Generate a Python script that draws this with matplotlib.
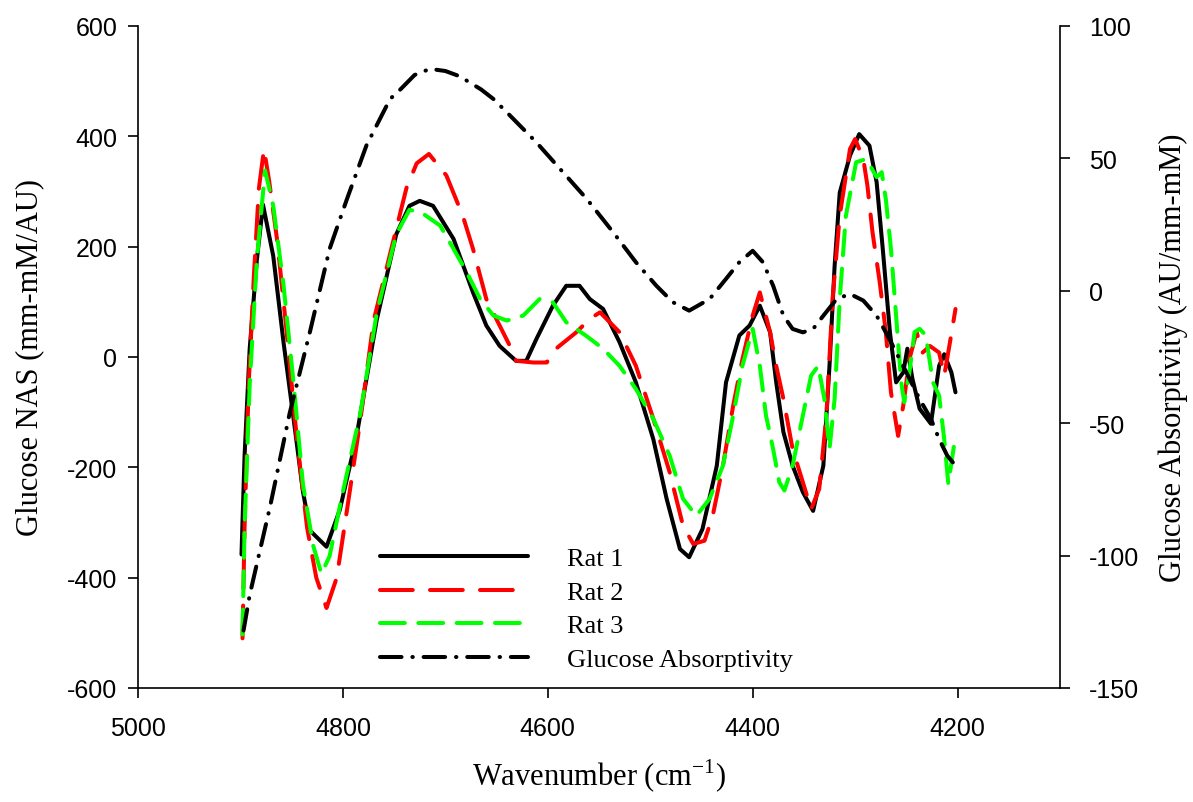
import matplotlib
matplotlib.use('Agg')
import matplotlib.pyplot as plt

# wavenumber (cm-1) / glucose NAS (mm-mM/AU)
rat1_wn = [4899, 4896, 4891, 4884, 4878, 4868, 4858, 4848, 4839, 4832, 4816, 4803, 4787,
           4767, 4748, 4735, 4725, 4712, 4692, 4673, 4660, 4647, 4631, 4621, 4611, 4595,
           4582, 4569, 4559, 4546, 4530, 4514, 4497, 4484, 4471, 4462, 4449, 4435, 4426,
           4413, 4403, 4393, 4383, 4377, 4370, 4361, 4351, 4341, 4331, 4325, 4320, 4315,
           4305, 4296, 4286, 4279, 4273, 4266, 4260, 4253, 4249, 4244, 4237, 4226, 4218,
           4213, 4206, 4202]
rat1_nas = [-358, -179, 15, 176, 276, 183, 27, -114, -244, -315, -344, -277, -147,
            67, 222, 274, 283, 274, 214, 117, 57, 20, -7, -7, 33, 93,
            129, 129, 105, 87, 27, -46, -149, -257, -348, -363, -312, -197, -46,
            39, 57, 93, 45, -46, -136, -197, -245, -279, -197, -16, 165, 298,
            365, 404, 383, 317, 196, 45, -46, -28, 15, -40, -94, -121, -16,
            5, -28, -64]

rat2_wn = [4898, 4896, 4892, 4887, 4882, 4877, 4872, 4864, 4855, 4845, 4835, 4826, 4816,
           4806, 4796, 4783, 4770, 4751, 4738, 4728, 4716, 4699, 4683, 4673, 4660, 4647,
           4637, 4631, 4614, 4601, 4592, 4572, 4559, 4549, 4530, 4514, 4497, 4481, 4468,
           4458, 4447, 4439, 4429, 4419, 4410, 4400, 4393, 4383, 4377, 4370, 4361, 4351,
           4343, 4335, 4328, 4322, 4315, 4305, 4300, 4292, 4288, 4283, 4276, 4270, 4265,
           4258, 4253, 4247, 4240, 4234, 4227, 4218, 4213, 4208, 4202]
rat2_nas = [-510, -309, -50, 144, 306, 377, 319, 209, 47, -147, -309, -400, -455,
            -400, -277, -115, 66, 209, 306, 351, 368, 329, 256, 196, 105, 57,
            20, -7, -10, -10, 15, 45, 69, 81, 45, -16, -112, -209, -306,
            -339, -333, -288, -197, -88, -4, 75, 117, 45, -16, -76, -167, -227,
            -276, -239, -106, 105, 256, 377, 395, 359, 311, 226, 136, 45, -64,
            -143, -88, -4, 45, 8, 20, 8, -34, 20, 87]

rat3_wn = [4898, 4896, 4891, 4884, 4876, 4868, 4858, 4848, 4839, 4829, 4821, 4813, 4800,
           4783, 4767, 4748, 4735, 4722, 4705, 4692, 4679, 4666, 4653, 4640, 4624, 4608,
           4595, 4582, 4563, 4546, 4530, 4514, 4497, 4481, 4468, 4455, 4442, 4429, 4419,
           4410, 4400, 4393, 4387, 4380, 4374, 4369, 4361, 4351, 4343, 4336, 4330, 4325,
           4320, 4315, 4309, 4299, 4289, 4279, 4274, 4270, 4265, 4260, 4255, 4252, 4247,
           4242, 4237, 4231, 4224, 4218, 4213, 4209, 4203]
rat3_nas = [-503, -309, -50, 176, 338, 274, 131, -50, -231, -342, -393, -361, -244,
            -102, 79, 222, 267, 260, 238, 196, 153, 105, 75, 66, 75, 105,
            99, 63, 39, 15, -16, -58, -112, -179, -257, -288, -257, -197, -106,
            -16, 51, -16, -106, -167, -227, -242, -197, -106, -34, -16, -76, -167,
            -76, 105, 256, 353, 359, 326, 335, 286, 196, 75, -46, -82, -28,
            45, 51, 39, -46, -70, -149, -230, -155]

# glucose absorptivity (AU/mm-mM), right axis
gluc_wn = [4897, 4891, 4871, 4852, 4832, 4813, 4796, 4777, 4754, 4744, 4730, 4715, 4700,
           4686, 4665, 4653, 4640, 4611, 4588, 4562, 4536, 4514, 4494, 4478, 4462, 4442,
           4426, 4413, 4400, 4390, 4380, 4370, 4361, 4351, 4341, 4331, 4318, 4305, 4292,
           4279, 4270, 4260, 4250, 4237, 4226, 4218, 4210, 4202]
gluc_abs = [-128.3, -114.9, -81.3, -46.3, -15.2, 15.8, 34.7, 54.9, 72.4, 76, 81.5, 83.8, 83,
            81, 76, 72.4, 67.4, 56, 46, 34.7, 22, 10.8, 1.9, -4.3, -7.5, -3.1,
            4.5, 10.8, 15.1, 10.8, 1.9, -9.4, -14.4, -15.7, -14.4, -9.4, -3.1, -1.2, -3.7,
            -9.4, -15.7, -23.2, -30.8, -40.9, -48.4, -56, -62.3, -66]

x_ticks = [5000, 4800, 4600, 4400, 4200]
left_ticks = [-600, -400, -200, 0, 200, 400, 600]
right_ticks = [-150, -100, -50, 0, 50, 100]

plt.rcParams['font.family'] = 'Liberation Sans'
plt.rcParams['axes.unicode_minus'] = False
plt.rcParams['mathtext.fontset'] = 'custom'
plt.rcParams['mathtext.rm'] = 'Liberation Serif'
plt.rcParams['lines.scale_dashes'] = False
serif = 'Liberation Serif'

fig = plt.figure(figsize=(11.93, 8.03), dpi=100)
ax = fig.add_axes([0.1157, 0.142, 0.7728, 0.8244])
ax2 = ax.twinx()

lw = 2.9
l1, = ax.plot(rat1_wn, rat1_nas, color='black', lw=lw, solid_capstyle='round',
              solid_joinstyle='round', label='Rat 1')
l2, = ax.plot(rat2_wn, rat2_nas, color='#ff0000', lw=lw, dashes=(23.6, 12.4),
              dash_capstyle='round', dash_joinstyle='round', label='Rat 2')
l3, = ax.plot(rat3_wn, rat3_nas, color='#00ff00', lw=lw, dashes=(17.9, 9.7),
              dash_capstyle='round', dash_joinstyle='round', label='Rat 3')
l4, = ax2.plot(gluc_wn, gluc_abs, color='black', lw=lw, dashes=(15.5, 7.8, 0.3, 7.8),
               dash_capstyle='round', dash_joinstyle='round', label='Glucose Absorptivity')

ax.set_xlim(5000, 4100)
ax.set_ylim(-600, 600)
ax2.set_ylim(-150, 100)
ax.set_xticks(x_ticks)
ax.set_yticks(left_ticks)
ax2.set_yticks(right_ticks)

for a in (ax, ax2):
    a.spines['top'].set_visible(False)
    for s in a.spines.values():
        s.set_linewidth(1.2)
ax.spines['right'].set_visible(False)
ax2.spines['left'].set_visible(False)
ax2.spines['bottom'].set_visible(False)

ax.tick_params(axis='x', direction='out', length=7, width=1.2, labelsize=18, pad=13)
ax.tick_params(axis='y', direction='out', length=7, width=1.2, labelsize=18, pad=8)
ax2.tick_params(axis='y', direction='out', length=7, width=1.2, labelsize=18, pad=14)

ax.set_xlabel('Wavenumber (cm$^{-1}$)', family=serif, fontsize=22, labelpad=12)
ax.set_ylabel('Glucose NAS (mm-mM/AU)', family=serif, fontsize=22, labelpad=16)
ax2.set_ylabel('Glucose Absorptivity (AU/mm-mM)', family=serif, fontsize=22,
               labelpad=14, rotation=90)

ax2.legend(handles=[l1, l2, l3, l4], loc='upper left', bbox_to_anchor=(0.2625, 0.213),
           frameon=False, prop={'family': serif, 'size': 19}, handlelength=5.6,
           handletextpad=1.5, labelspacing=0.38, borderpad=0, borderaxespad=0)

fig.savefig('out.png', dpi=100)
